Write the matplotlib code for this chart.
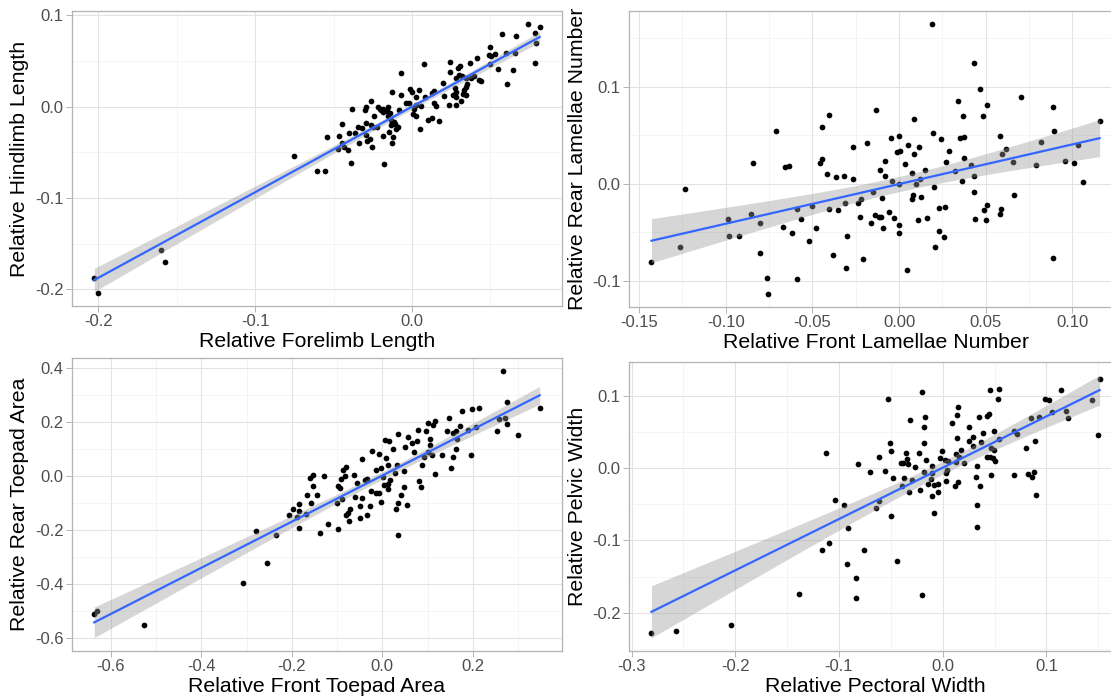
import numpy as np
import matplotlib
matplotlib.use("Agg")
import matplotlib.pyplot as plt
from matplotlib.ticker import MultipleLocator, FuncFormatter

plt.rcParams['font.family'] = ['Liberation Sans', 'DejaVu Sans']

# ---- panel 1: forelimb vs hindlimb
fore_x = [0.0741, 0.0815, 0.0577, 0.0667, 0.0788, 0.0790, 0.0660, 0.0788, 0.0499, 0.0490,
          0.0507, 0.0531, 0.0601, 0.0550, 0.0645, 0.0607, 0.0501, 0.0412, 0.0369, 0.0244,
          0.0306, 0.0291, 0.0244, 0.0299, 0.0284, 0.0318, 0.0346, 0.0374, 0.0397, 0.0427,
          0.0442, 0.0352, 0.0342, 0.0333, 0.0346, 0.0325, 0.0312, 0.0282, 0.0236, 0.0284,
          0.0274, 0.0263, 0.0280, 0.0204, 0.0200, 0.0140, 0.0127, 0.0140, 0.0153, 0.0174,
          0.0125, 0.0100, 0.0049, 0.0079, -0.0068, -0.0011, -0.0002, 0.0042, 0.0025, 0.0083,
          0.0059, 0.0025, 0.0013, 0.0008, 0.0023, -0.0017, -0.0038, -0.0081, -0.0125, -0.0070,
          -0.0151, -0.0159, -0.0187, -0.0202, -0.0217, -0.0197, -0.0183, -0.0140, -0.0153, -0.0134,
          -0.0115, -0.0108, -0.0091, -0.0134, -0.0102, -0.0119, -0.0146, -0.0185, -0.0130, -0.0178,
          -0.0259, -0.0295, -0.0301, -0.0380, -0.0244, -0.0263, -0.0248, -0.0225, -0.0293, -0.0316,
          -0.0346, -0.0361, -0.0401, -0.0444, -0.0465, -0.0543, -0.0448, -0.0431, -0.0469, -0.0406,
          -0.0386, -0.0340, -0.0270, -0.0289, -0.0253, -0.0293, -0.0603, -0.0556, -0.0753, -0.1600,
          -0.1576, -0.2027, -0.2000]
hind_y = [0.0901, 0.0872, 0.0791, 0.0773, 0.0802, 0.0696, 0.0593, 0.0480, 0.0648, 0.0568,
          0.0560, 0.0582, 0.0586, 0.0414, 0.0407, 0.0249, 0.0465, 0.0531, 0.0476, 0.0487,
          0.0447, 0.0418, 0.0377, 0.0348, 0.0311, 0.0333, 0.0311, 0.0315, 0.0337, 0.0293,
          0.0278, 0.0249, 0.0220, 0.0183, 0.0128, 0.0139, 0.0062, 0.0018, 0.0022, 0.0165,
          0.0205, 0.0132, 0.0110, 0.0121, 0.0264, 0.0172, 0.0147, 0.0037, 0.0007, -0.0158,
          -0.0128, -0.0147, -0.0249, 0.0465, 0.0374, 0.0198, 0.0165, 0.0179, 0.0103, 0.0110,
          0.0004, 0.0018, -0.0026, -0.0084, -0.0103, 0.0037, 0.0037, -0.0037, 0.0161, 0.0128,
          0.0000, -0.0044, -0.0022, -0.0022, -0.0007, -0.0040, -0.0055, -0.0073, -0.0103, -0.0147,
          -0.0165, -0.0190, -0.0223, -0.0201, -0.0245, -0.0330, -0.0278, -0.0322, -0.0396, -0.0623,
          0.0066, 0.0000, -0.0037, -0.0026, -0.0099, -0.0205, -0.0227, -0.0220, -0.0176, -0.0238,
          -0.0223, -0.0286, -0.0286, -0.0187, -0.0322, -0.0337, -0.0403, -0.0440, -0.0462, -0.0476,
          -0.0612, -0.0399, -0.0355, -0.0374, -0.0440, -0.0311, -0.0703, -0.0703, -0.0545, -0.1570,
          -0.1700, -0.1880, -0.2036]

# ---- panel 2: front vs rear lamellae
lam_x = [-0.1429, -0.1264, -0.1235, -0.0989, -0.0984, -0.0922, -0.0853, -0.0843, -0.0805, -0.0805,
         -0.0761, -0.0757, -0.0709, -0.0672, -0.0659, -0.0634, -0.0617, -0.0590, -0.0590, -0.0565,
         -0.0521, -0.0500, -0.0480, -0.0459, -0.0446, -0.0442, -0.0415, -0.0405, -0.0403, -0.0384,
         -0.0363, -0.0355, -0.0317, -0.0313, -0.0304, -0.0298, -0.0265, -0.0265, -0.0238, -0.0227,
         -0.0219, -0.0209,
         0.0192, 0.0434, 0.0465, 0.0338, 0.0703, 0.0505, 0.0891, -0.0134, 0.0088, 0.0369,
         0.0484, 0.1157, 0.0895, 0.0196, 0.0353, 0.0377, 0.0582, -0.0044, -0.0002, 0.0244,
         -0.0183, 0.0052, 0.0117, 0.0818, 0.1032, 0.0619, -0.0010, 0.0008, 0.0088, 0.0286,
         0.0592, 0.0373, -0.0079, 0.0271, 0.0035, 0.0415, 0.0655, 0.0955, 0.1011, 0.0788,
         -0.0110, 0.0152, 0.0323, -0.0079, 0.0077, 0.0434, 0.0121, -0.0040, -0.0002, 0.0098,
         0.0363, 0.1062, 0.0202, -0.0148, 0.0434, 0.0665, 0.0083, 0.0129, 0.0077, -0.0096,
         0.0509, 0.0263, 0.0229, 0.0590, 0.0490, -0.0061, -0.0138, -0.0117, -0.0102, -0.0031,
         0.0159, 0.0108, 0.0440, 0.0503, 0.0584, -0.0163, -0.0002, -0.0090, -0.0002, 0.0232,
         0.0261, 0.0209, 0.0886, 0.0048]
lam_y = [-0.0800, -0.0653, -0.0058, -0.0362, -0.0537, -0.0540, -0.0308, 0.0215, -0.0407, -0.0708,
         -0.0964, -0.1128, 0.0544, -0.0441, 0.0171, 0.0181, -0.0503, -0.0263, -0.0981, -0.0362,
         -0.0585, -0.0226, -0.0451, 0.0212, 0.0581, 0.0256, 0.0106, 0.0708, -0.0263, -0.0735,
         0.0065, -0.0274, 0.0082, -0.0195, -0.0865, -0.0540, 0.0380, 0.0051, -0.0198, -0.0345,
         -0.0157, -0.0769,
         0.1638, 0.1244, 0.0974, 0.0848, 0.0889, 0.0810, 0.0786, 0.0759, 0.0663, 0.0697,
         0.0697, 0.0643, 0.0540, 0.0520, 0.0475, 0.0482, 0.0489, 0.0472, 0.0489, 0.0462,
         0.0417, 0.0400, 0.0380, 0.0434, 0.0403, 0.0356, 0.0328, 0.0338, 0.0304, 0.0338,
         0.0308, 0.0263, 0.0239, 0.0222, 0.0205, 0.0198, 0.0222, 0.0236, 0.0219, 0.0191,
         0.0140, 0.0144, 0.0127, 0.0082, 0.0113, 0.0085, 0.0048, 0.0027, 0.0003, 0.0003,
         0.0031, 0.0017, -0.0031, -0.0082, -0.0089, -0.0113, -0.0116, -0.0137, -0.0154, -0.0147,
         -0.0222, -0.0236, -0.0253, -0.0256, -0.0270, -0.0287, -0.0321, -0.0345, -0.0345, -0.0356,
         -0.0356, -0.0376, -0.0362, -0.0376, -0.0308, -0.0403, -0.0421, -0.0458, -0.0503, -0.0482,
         -0.0550, -0.0653, -0.0759, -0.0889]

# ---- panel 3: front vs rear toepad area
pad_x = [-0.637, -0.632, -0.526, -0.307, -0.279, -0.255, -0.234, -0.207, -0.198, -0.184,
         -0.184, -0.184, -0.188, -0.169, -0.166, -0.157, -0.153, -0.159, -0.154, -0.144,
         -0.130, -0.137, -0.119, -0.099, -0.101, -0.099, -0.093, -0.091, -0.089, -0.088,
         -0.082, -0.080, -0.080, -0.075, -0.073, -0.071, -0.062, -0.060, -0.057, -0.050,
         -0.050, -0.046, -0.046, -0.038, -0.034, -0.033, -0.028, -0.025, -0.022, -0.015,
         -0.014, -0.007, -0.007, -0.004, -0.002, 0.001, 0.003, 0.005, 0.009, 0.013,
         0.012, 0.015, 0.013, 0.016, 0.024, 0.028, 0.032, 0.035, 0.031, 0.035,
         0.035, 0.041, 0.048, 0.049, 0.050, 0.054, 0.056, 0.066, 0.071, 0.076,
         0.079, 0.082, 0.086, 0.088, 0.092, 0.097, 0.101, 0.100, 0.106, 0.106,
         0.110, 0.112, 0.117, 0.116, 0.132, 0.143, 0.148, 0.151, 0.156, 0.157,
         0.162, 0.163, 0.165, 0.171, 0.176, 0.196, 0.190, 0.199, 0.207, 0.213,
         0.253, 0.258, 0.268, 0.271, 0.275, 0.276, 0.300, 0.348]
pad_y = [-0.512, -0.498, -0.549, -0.396, -0.203, -0.322, -0.217, -0.144, -0.123, -0.103,
         -0.129, -0.192, -0.153, -0.139, -0.071, -0.098, -0.037, -0.006, 0.002, -0.069,
         -0.001, -0.212, -0.177, -0.196, -0.101, -0.037, -0.044, -0.012, -0.086, 0.023,
         0.000, 0.034, -0.144, -0.138, -0.165, -0.121, 0.002, -0.077, -0.027, -0.154,
         -0.112, -0.082, 0.063, -0.015, -0.010, -0.143, -0.111, -0.055, 0.093, 0.022,
         -0.062, -0.062, 0.081, -0.097, 0.030, -0.005, -0.032, 0.134, 0.066, 0.039,
         -0.030, 0.128, -0.048, -0.015, 0.101, 0.012, 0.042, 0.157, -0.123, -0.098,
         -0.219, -0.071, -0.042, 0.018, 0.108, -0.108, 0.145, 0.123, 0.089, 0.129,
         0.170, -0.017, -0.039, 0.039, 0.071, 0.165, 0.089, 0.197, 0.135, 0.116,
         0.076, 0.188, 0.205, 0.009, 0.077, 0.166, 0.215, 0.028, 0.160, 0.071,
         0.167, 0.098, 0.135, 0.185, 0.241, 0.079, 0.170, 0.248, 0.180, 0.250,
         0.166, 0.211, 0.387, 0.215, 0.273, 0.193, 0.153, 0.251]

# ---- panel 4: pectoral vs pelvic width
pec_x = [-0.2808, -0.2567, -0.2040, -0.1388, -0.1128, -0.1160, -0.1092, -0.1041, -0.0948, -0.0909,
         -0.0919, -0.0839, -0.0832, -0.0813, -0.0761,
         0.1513, 0.1500, 0.1439, 0.1137, 0.0990, 0.1025, 0.1051, 0.1192, 0.1205, 0.0848,
         0.0929, 0.0691, 0.0716, 0.0887, 0.0806, 0.0459, 0.0546, 0.0530, 0.0447, 0.0424,
         0.0350, 0.0148, 0.0135, 0.0090, 0.0254, 0.0386, 0.0495, 0.0540, 0.0289, 0.0254,
         0.0135, 0.0366, 0.0289, 0.0463, 0.0492, 0.0173, 0.0129, 0.0154, 0.0424, 0.0453,
         0.0485, 0.0501, 0.0209, 0.0129, 0.0026, 0.0048, 0.0328, 0.0469, 0.0691, 0.0826,
         0.0877, 0.0864, 0.0900, 0.0325, 0.0360, 0.0145, 0.0122, 0.0035, 0.0032, 0.0042,
         -0.0010, -0.0022, -0.0103, -0.0164, -0.0177, -0.0180, -0.0173, -0.0202, -0.0315, -0.0225,
         -0.0183, -0.0106, -0.0116, -0.0138, -0.0080, -0.0042, -0.0042, -0.0103, -0.0080, -0.0222,
         -0.0299, -0.0267, -0.0334, -0.0341, -0.0357, -0.0379, -0.0405, -0.0376, -0.0395, -0.0321,
         -0.0479, -0.0559, -0.0610, -0.0704, -0.0498, -0.0511, -0.0530, -0.0610, -0.0643, -0.0495,
         0.0328, 0.0331, -0.0440, -0.0196]
pel_y = [-0.2274, -0.2248, -0.2163, -0.1747, 0.0204, -0.1130, -0.1042, -0.0443, -0.0510, -0.0829,
         -0.1330, -0.1516, -0.1795, 0.0049, -0.1130,
         0.1223, 0.0461, 0.0944, 0.1073, 0.0957, 0.0944, 0.0776, 0.0793, 0.0696, 0.0687,
         0.0700, 0.0510, 0.0465, 0.0377, 0.0270, 0.1073, 0.1095, 0.0957, 0.0745, 0.0723,
         0.0705, 0.0838, 0.0736, 0.0621, 0.0572, 0.0488, 0.0505, 0.0403, 0.0430, 0.0368,
         0.0408, 0.0355, 0.0310, 0.0279, 0.0244, 0.0244, 0.0199, 0.0146, 0.0146, 0.0146,
         0.0137, 0.0093, 0.0062, 0.0089, 0.0106, 0.0102, 0.0031, -0.0093, -0.0093, -0.0084,
         -0.0049, -0.0120, -0.0372, -0.0129, -0.0244, -0.0191, -0.0253, -0.0177, -0.0075, -0.0022,
         0.0239, 0.0142, 0.0022, 0.0106, 0.0350, 0.0559, 0.0709, 0.1046, 0.0660, 0.0213,
         -0.0058, -0.0071, -0.0155, -0.0226, -0.0235, -0.0226, -0.0328, -0.0386, -0.0616, -0.0306,
         -0.0160, 0.0013, 0.0053, 0.0129, 0.0213, 0.0066, 0.0066, -0.0142, -0.0244, -0.0337,
         -0.0137, -0.0040, 0.0146, -0.0062, 0.0230, 0.0350, 0.0957, -0.0452, -0.0559, -0.0669,
         -0.0514, -0.0820, -0.1285, -0.1751]

T95 = 1.98  # t quantile, df ~ 120


def hyphen_fmt(dec):
    def f(v, pos):
        s = f"{v:.{dec}f}"
        if float(s) == 0:
            s = s.lstrip('-')
        return s
    return FuncFormatter(f)


def panel(rect, x, y, xlab, ylab, xstep, ystep, xdec, ydec):
    ax = fig.add_axes(rect)
    x = np.array(x)
    y = np.array(y)
    ax.scatter(x, y, s=17, color='black', linewidths=0, zorder=2)

    # lm fit with 95% confidence band, like geom_smooth(method="lm")
    n = len(x)
    b, a = np.polyfit(x, y, 1)
    resid = y - (a + b * x)
    s = np.sqrt(np.sum(resid ** 2) / (n - 2))
    xm = x.mean()
    sxx = np.sum((x - xm) ** 2)
    xs = np.linspace(x.min(), x.max(), 80)
    yh = a + b * xs
    se = s * np.sqrt(1.0 / n + (xs - xm) ** 2 / sxx)
    ax.fill_between(xs, yh - T95 * se, yh + T95 * se, color='#999999', alpha=0.4,
                    linewidth=0, zorder=3)
    ax.plot(xs, yh, color='#3366FF', lw=1.6, zorder=4)

    ax.margins(0.05)
    ax.xaxis.set_major_locator(MultipleLocator(xstep))
    ax.xaxis.set_minor_locator(MultipleLocator(xstep / 2))
    ax.yaxis.set_major_locator(MultipleLocator(ystep))
    ax.yaxis.set_minor_locator(MultipleLocator(ystep / 2))
    ax.xaxis.set_major_formatter(hyphen_fmt(xdec))
    ax.yaxis.set_major_formatter(hyphen_fmt(ydec))

    ax.set_axisbelow(True)
    ax.grid(which='major', color='#E3E3E3', lw=0.8)
    ax.grid(which='minor', color='#F0F0F0', lw=0.5)
    for sp in ax.spines.values():
        sp.set_color('#B3B3B3')
        sp.set_linewidth(0.9)
    ax.tick_params(which='major', direction='out', length=4, width=0.7, color='#B3B3B3',
                   labelcolor='#4D4D4D', labelsize=12, pad=2)
    ax.tick_params(which='minor', length=0)
    ax.set_xlabel(xlab, fontsize=15.3, color='black', labelpad=2)
    ax.set_ylabel(ylab, fontsize=15.3, color='black', labelpad=4)
    return ax


fig = plt.figure(figsize=(11.11, 7.0), dpi=100)

panel([0.0648, 0.5629, 0.4410, 0.4214], fore_x, hind_y,
      "Relative Forelimb Length", "Relative Hindlimb Length", 0.1, 0.1, 1, 1)
panel([0.5662, 0.5614, 0.4437, 0.4229], lam_x, lam_y,
      "Relative Front Lamellae Number", "Relative Rear Lamellae Number", 0.05, 0.1, 2, 1)
panel([0.0648, 0.0700, 0.4410, 0.4186], pad_x, pad_y,
      "Relative Front Toepad Area", "Relative Rear Toepad Area", 0.2, 0.2, 1, 1)
panel([0.5662, 0.0700, 0.4437, 0.4129], pec_x, pel_y,
      "Relative Pectoral Width", "Relative Pelvic Width", 0.1, 0.1, 1, 1)

fig.savefig("out.png", dpi=100)
